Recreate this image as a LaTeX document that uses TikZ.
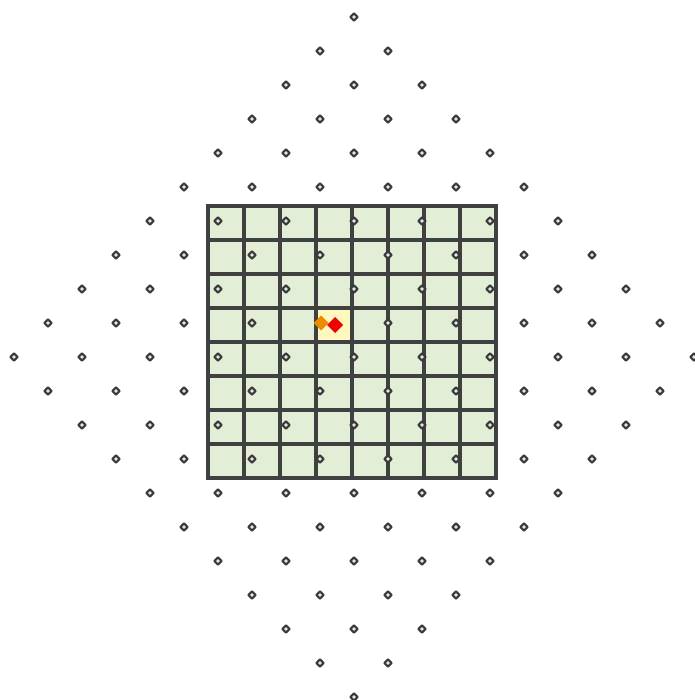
\documentclass[tikz,border=0pt]{standalone}
\usetikzlibrary{shapes.geometric}
\definecolor{gridline}{HTML}{404040}
\definecolor{cellfill}{HTML}{E2EFD6}
\definecolor{hicell}{HTML}{FFF8BE}
\definecolor{markline}{HTML}{3A3A3A}
\definecolor{markfill}{HTML}{E8E8E8}
\definecolor{orangedot}{HTML}{EE8A00}
\definecolor{reddot}{HTML}{F00000}
\tikzset{
  marker/.style={draw=markline, line width=2.1pt, fill=markfill, line join=round},
}
\begin{document}
\begin{tikzpicture}[x=1pt,y=-1pt]
\useasboundingbox (0,0) rectangle (694,700);
% grid cells
\fill[cellfill] (208,206) rectangle (496,478);
\fill[hicell] (316,308) rectangle (352,342);
\foreach \k in {0,...,8} {
  \draw[gridline, line width=3.6pt] (208+36*\k,206) -- (208+36*\k,478);
  \draw[gridline, line width=3.6pt] (208,206+34*\k) -- (496,206+34*\k);
}
\draw[gridline, line width=3.6pt, line cap=rect] (208,206) rectangle (496,478);
% lattice markers
\foreach \i in {-10,...,10} {
  \foreach \j in {-10,...,10} {
    \pgfmathtruncatemacro{\s}{abs(\i)+abs(\j)}
    \pgfmathtruncatemacro{\p}{mod(abs(\i+\j),2)}
    \ifnum\s<11 \ifnum\p=0
      \draw[marker] ({354+34*\i-3.6},{357+34*\j}) -- ({354+34*\i},{357+34*\j-3.6}) -- ({354+34*\i+3.6},{357+34*\j}) -- ({354+34*\i},{357+34*\j+3.6}) -- cycle;
    \fi\fi
  }
}
% highlighted points
\fill[orangedot] (313.5,323) -- (321,315.5) -- (328.5,323) -- (321,330.5) -- cycle;
\fill[reddot] (327,325) -- (335,317) -- (343,325) -- (335,333) -- cycle;
\end{tikzpicture}
\end{document}
